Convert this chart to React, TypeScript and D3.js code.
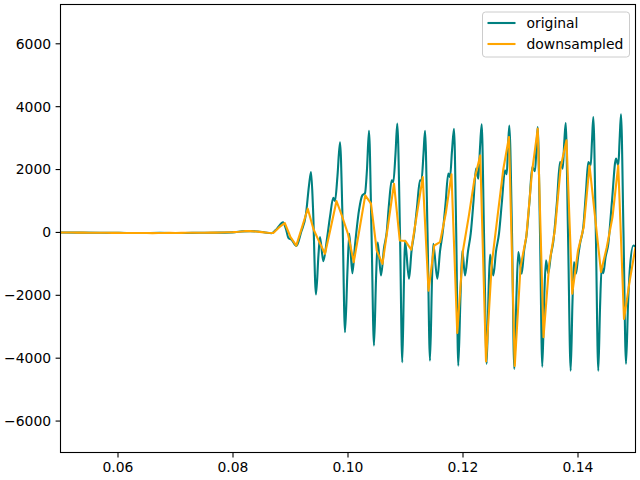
import React from "react";
import * as d3 from "d3";

// ---- data ----
const originalTime = [
  0.05, 0.05339, 0.05687, 0.06035, 0.06383, 0.0673, 0.07078, 0.07426, 0.07774, 0.08035,
  0.08157, 0.08296, 0.08435, 0.08557, 0.0867, 0.08765, 0.0887, 0.08922, 0.08965, 0.09017,
  0.09104, 0.09183, 0.0927, 0.09322, 0.09357, 0.09391, 0.09443, 0.09487, 0.09513, 0.0957,
  0.09635, 0.09687, 0.09744, 0.09774, 0.09817, 0.09861, 0.09904, 0.09948, 0.09991, 0.10023,
  0.10075, 0.10122, 0.10191, 0.10249, 0.10296, 0.1033, 0.10365, 0.10409, 0.10452, 0.10487,
  0.10517, 0.10574, 0.10626, 0.10673, 0.10713, 0.1076, 0.10788, 0.10826, 0.10857, 0.10904,
  0.10944, 0.10974, 0.10991, 0.11061, 0.11104, 0.11153, 0.112, 0.11252, 0.11278, 0.11313,
  0.11339, 0.11383, 0.11426, 0.11461, 0.11483, 0.11553, 0.116, 0.11647, 0.11696, 0.11744,
  0.11774, 0.11809, 0.11843, 0.11882, 0.11918, 0.11957, 0.11988, 0.12035, 0.12087, 0.12134,
  0.12183, 0.12226, 0.12266, 0.12296, 0.12325, 0.12365, 0.12412, 0.12443, 0.1247, 0.12527,
  0.12574, 0.12626, 0.12678, 0.1273, 0.1276, 0.12783, 0.12805, 0.12852, 0.12892, 0.1293,
  0.12962, 0.13021, 0.13061, 0.13108, 0.13157, 0.13205, 0.13252, 0.13278, 0.13299, 0.13339,
  0.13379, 0.13414, 0.13443, 0.13483, 0.1353, 0.1357, 0.13635, 0.13687, 0.13734, 0.13762,
  0.13786, 0.13826, 0.13873, 0.13904, 0.1393, 0.13965, 0.14, 0.14035, 0.14092, 0.14139,
  0.14179, 0.14221, 0.14243, 0.14266, 0.1431, 0.14353, 0.14383, 0.14412, 0.1444, 0.14478,
  0.14527, 0.14591, 0.14661, 0.14701, 0.14725, 0.14748, 0.14791, 0.14835, 0.1487, 0.14904,
  0.14962, 0.15,
];
const originalValue = [
  0, -5, -10, -15, -20, -15, -20, -10, -5, 10,
  35, 40, 30, 0, -25, 120, 320, 100, -180, -230,
  -430, 0, 600, 1500, 1920, 800, -1975, -700, -150, -915,
  -200, 500, 1100, 1000, 1800, 2870, 500, -3175, -1200, -40,
  -1300, -400, 700, 1180, 1250, 2000, 3230, 0, -3600, -1500,
  -310, -1370, -500, 0, 900, 1660, 1600, 2500, 3460, 0,
  -4130, -1500, -255, -1475, -600, 0, 800, 1660, 1650, 2500,
  3230, 0, -4080, -1500, -360, -1475, -600, 0, 900, 1870,
  1760, 2600, 3300, 0, -4240, -2000, -575, -1370, -600, -40,
  1000, 2030, 1710, 2700, 3440, 0, -4180, -2000, -700, -1370,
  -600, -40, 1000, 1975, 1850, 2700, 3400, 0, -4340, -2000,
  -625, -1315, -600, -40, 1000, 2080, 1950, 2700, 3350, 0,
  -4270, -2000, -890, -1300, -700, -300, 1000, 2240, 2030, 2900,
  3480, 0, -4400, -2200, -945, -1315, -800, -360, 170, 1300,
  2240, 2130, 2900, 3670, 0, -4400, -2400, -1100, -1300, -800,
  -360, 1000, 2350, 2130, 3000, 3760, 0, -4180, -2300, -1100,
  -415, -450,
];

const downTime = [
  0.05, 0.051, 0.052, 0.053, 0.054, 0.055, 0.056, 0.057, 0.058, 0.059,
  0.06, 0.061, 0.062, 0.063, 0.064, 0.065, 0.066, 0.067, 0.068, 0.069,
  0.07, 0.071, 0.072, 0.073, 0.074, 0.075, 0.076, 0.077, 0.078, 0.079,
  0.08, 0.081, 0.082, 0.083, 0.084, 0.085, 0.086, 0.087, 0.088, 0.089,
  0.09, 0.091, 0.092, 0.093, 0.094, 0.095, 0.096, 0.097, 0.098, 0.099,
  0.1, 0.101, 0.102, 0.103, 0.104, 0.105, 0.106, 0.107, 0.108, 0.109,
  0.11, 0.111, 0.112, 0.113, 0.114, 0.115, 0.116, 0.117, 0.118, 0.119,
  0.12, 0.121, 0.122, 0.123, 0.124, 0.125, 0.126, 0.127, 0.128, 0.129,
  0.13, 0.131, 0.132, 0.133, 0.134, 0.135, 0.136, 0.137, 0.138, 0.139,
  0.14, 0.141, 0.142, 0.143, 0.144, 0.145, 0.146, 0.147, 0.148, 0.149,
  0.15,
];
const downValue = [
  0, 0, -3, -5, -5, -8, -10, -10, -12, -15,
  -15, -18, -20, -20, -18, -20, -22, -20, -18, -15,
  -20, -15, -12, -10, -10, -8, -5, -5, 0, 5,
  10, 20, 40, 40, 30, 10, -10, -20, 160, 300,
  -150, -420, 160, 755, 100, -300, -680, 150, 1000, 500,
  -50, -945, 100, 1180, 915, -575, -1000, 270, 1550, -255,
  -275, -550, 600, 1760, -1850, -415, -310, 600, 1850, -3200,
  -575, 510, 1700, 2450, -4100, -1000, 500, 2000, 3035, -4250,
  -1100, -150, 1920, 3300, -3330, -1000, 100, 2100, 2930, -1950,
  -575, 170, 2130, 435, -1260, -470, 490, 2130, -2750, -1530,
  -470,
];

const xTicks = [0.06, 0.08, 0.1, 0.12, 0.14];
const yTicks = [-6000, -4000, -2000, 0, 2000, 4000, 6000];
const xDomain = [0.05, 0.15];
const yDomain = [-7000, 7250];
const seriesNames = ["original", "downsampled"];
const seriesColors = ["#008080", "#ffa500"];

export default function App() {
  const W = 640;
  const H = 480;
  const left = 60.5;
  const right = 635.5;
  const top = 4.5;
  const bottom = 452.5;

  const x = d3.scaleLinear().domain(xDomain).range([left, right]);
  const y = d3.scaleLinear().domain(yDomain).range([bottom, top]);

  const orig = originalTime.map((t, i) => [t, originalValue[i]] as [number, number]);
  const down = downTime.map((t, i) => [t, downValue[i]] as [number, number]);

  const lineOrig = d3
    .line<[number, number]>()
    .x((d) => x(d[0]))
    .y((d) => y(d[1]))
    .curve(d3.curveMonotoneX);
  const lineDown = d3
    .line<[number, number]>()
    .x((d) => x(d[0]))
    .y((d) => y(d[1]));

  const font = "'DejaVu Sans', sans-serif";
  const fs = 13.9;
  const fmtY = (v: number) => (v < 0 ? "\u2212" + Math.abs(v) : String(v));

  return (
    <svg
      width={W}
      height={H}
      style={{ position: "absolute", left: 0, top: 0, background: "#fff" }}
      fontFamily={font}
    >
      <rect x={0} y={0} width={W} height={H} fill="#fff" />
      <defs>
        <clipPath id="plotclip">
          <rect x={left} y={top} width={right - left} height={bottom - top} />
        </clipPath>
      </defs>
      <g clipPath="url(#plotclip)">
        <path d={lineOrig(orig) || ""} fill="none" stroke={seriesColors[0]} strokeWidth={2.1} strokeLinejoin="round" />
        <path d={lineDown(down) || ""} fill="none" stroke={seriesColors[1]} strokeWidth={2.1} strokeLinejoin="round" />
      </g>
      {/* spines */}
      <rect x={left} y={top} width={right - left} height={bottom - top} fill="none" stroke="#000" strokeWidth={1.1} />
      {/* x ticks */}
      {xTicks.map((t) => (
        <g key={"x" + t}>
          <line x1={x(t)} x2={x(t)} y1={bottom} y2={bottom + 4.9} stroke="#000" strokeWidth={1.1} />
          <text x={x(t)} y={bottom + 19.5} textAnchor="middle" fontSize={fs} fill="#000">
            {t.toFixed(2)}
          </text>
        </g>
      ))}
      {/* y ticks */}
      {yTicks.map((v) => (
        <g key={"y" + v}>
          <line x1={left - 4.9} x2={left} y1={y(v)} y2={y(v)} stroke="#000" strokeWidth={1.1} />
          <text x={left - 9.4} y={y(v)} dy="0.35em" textAnchor="end" fontSize={fs} fill="#000">
            {fmtY(v)}
          </text>
        </g>
      ))}
      {/* legend */}
      <g>
        <rect x={482.5} y={12} width={147} height={45} rx={3} ry={3} fill="#fff" fillOpacity={0.8} stroke="#cccccc" strokeWidth={1} />
        {seriesNames.map((name, i) => (
          <g key={name}>
            <line x1={487.5} x2={515.5} y1={23 + i * 21} y2={23 + i * 21} stroke={seriesColors[i]} strokeWidth={2.1} />
            <text x={526.5} y={23 + i * 21} dy="0.35em" fontSize={fs} fill="#000">
              {name}
            </text>
          </g>
        ))}
      </g>
    </svg>
  );
}
